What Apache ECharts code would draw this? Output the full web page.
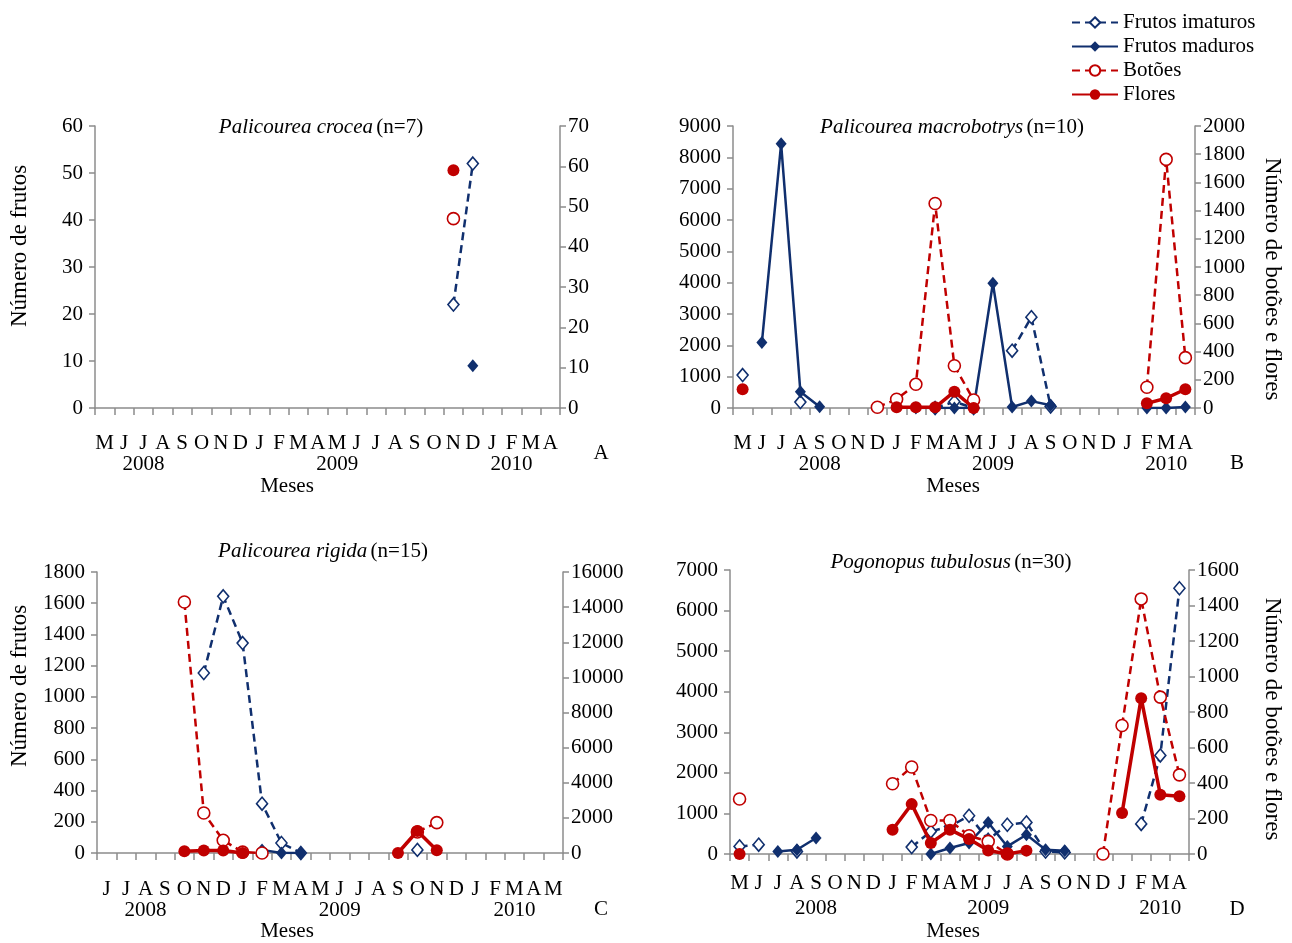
<!DOCTYPE html>
<html>
<head>
<meta charset="utf-8">
<script src="https://cdn.jsdelivr.net/npm/echarts@6/dist/echarts.min.js"></script>
<style>
  body { margin: 0; background: #fff; }
  #main { width: 1292px; height: 943px; }
</style>
</head>
<body>
<div id="main"></div>
<script>
// month letters, May 2008 - Apr 2010 (A, B, D) and Jun 2008 - May 2010 (C)
var monthsMay = ['M','J','J','A','S','O','N','D','J','F','M','A','M','J','J','A','S','O','N','D','J','F','M','A'];
var monthsJun = ['J','J','A','S','O','N','D','J','F','M','A','M','J','J','A','S','O','N','D','J','F','M','A','M'];

var yearsA = {2: '2008', 12: '2009', 21: '2010'};
var yearsB = {4: '2008', 13: '2009', 22: '2010'};
var yearsC = {2: '2008', 12: '2009', 21: '2010'};
var yearsD = {4: '2008', 13: '2009', 22: '2010'};

var N = null;
// A - Palicourea crocea
var imatA  = [N,N,N,N,N,N,N,N,N,N,N,N,N,N,N,N,N,N,22,52,N,N,N,N];
var madA   = [N,N,N,N,N,N,N,N,N,N,N,N,N,N,N,N,N,N,N,9,N,N,N,N];
var botA   = [N,N,N,N,N,N,N,N,N,N,N,N,N,N,N,N,N,N,47,N,N,N,N,N];
var florA  = [N,N,N,N,N,N,N,N,N,N,N,N,N,N,N,N,N,N,59,N,N,N,N,N];
// B - Palicourea macrobotrys
var imatB  = [1050,N,N,190,N,N,N,N,N,N,0,200,0,N,1830,2900,50,N,N,N,N,N,N,N];
var madB   = [N,2090,8430,520,40,N,N,N,N,0,0,0,0,3980,30,220,90,N,N,N,N,0,0,30];
var botB   = [N,N,N,N,N,N,N,5,62,168,1450,300,57,N,N,N,N,N,N,N,N,147,1763,357];
var florB  = [133,N,N,N,N,N,N,N,5,5,5,116,0,N,N,N,N,N,N,N,N,33,69,133];
// C - Palicourea rigida
var imatC  = [N,N,N,N,N,1153,1644,1345,316,64,0,N,N,N,N,N,20,N,N,N,N,N,N,N];
var madC   = [N,N,N,N,N,N,N,N,20,0,0,N,N,N,N,N,N,N,N,N,N,N,N,N];
var botC   = [N,N,N,N,14290,2278,723,50,0,N,N,N,N,N,N,N,1200,1731,N,N,N,N,N,N];
var florC  = [N,N,N,N,97,137,137,0,N,N,N,N,N,N,N,0,1253,154,N,N,N,N,N,N];
// D - Pogonopus tubulosus
var imatD  = [187,229,N,64,N,N,N,N,N,172,556,680,943,350,721,778,60,40,N,N,N,740,2430,6550];
var madD   = [N,N,64,106,394,N,N,N,N,N,0,148,271,778,187,475,106,80,N,N,N,N,N,N];
var botD   = [310,N,N,N,N,N,N,N,396,490,189,189,103,71,0,N,N,N,N,0,724,1437,884,446];
var florD  = [0,N,N,N,N,N,N,N,137,281,62,137,84,20,0,19,N,N,N,N,231,878,334,325];

var NAVY = '#102f6e';
var RED = '#c00000';
var FONT = 'Liberation Serif';
var AXIS = '#8c8c8c';

function xAx(grid, months, years, margin, lh) {
    return {
        type: 'category',
        gridIndex: grid,
        data: months,
        boundaryGap: true,
        axisLine: { show: true, lineStyle: { color: AXIS, width: 1.5 } },
        axisTick: { show: true, interval: 0, length: 7, lineStyle: { color: AXIS, width: 1.5 } },
        axisLabel: {
            interval: 0,
            hideOverlap: false,
            margin: margin,
            lineHeight: lh,
            color: '#000',
            fontFamily: FONT,
            fontSize: 21,
            formatter: function (v, i) {
                return years[i] ? v + '\n' + years[i] : v;
            }
        },
        splitLine: { show: false }
    };
}

function yAx(grid, pos, max, step) {
    return {
        type: 'value',
        gridIndex: grid,
        position: pos,
        min: 0,
        max: max,
        interval: step,
        axisLine: { show: true, lineStyle: { color: AXIS, width: 1.5 } },
        axisTick: { show: true, length: 6, lineStyle: { color: AXIS, width: 1.5 } },
        axisLabel: {
            margin: pos === 'left' ? 12 : 8,
            color: '#000',
            fontFamily: FONT,
            fontSize: 21,
            formatter: function (v) { return String(v); }
        },
        splitLine: { show: false }
    };
}

function panelSeries(k, imat, mad, bot, flor) {
    return [{
        name: 'Frutos imaturos', type: 'line',
        xAxisIndex: k, yAxisIndex: 2 * k, data: imat,
        symbol: 'diamond', symbolSize: [11, 13],
        lineStyle: { color: NAVY, width: 2.5, type: [8, 5] },
        itemStyle: { color: '#fff', borderColor: NAVY, borderWidth: 1.6 },
        z: 2
    }, {
        name: 'Frutos maduros', type: 'line',
        xAxisIndex: k, yAxisIndex: 2 * k, data: mad,
        symbol: 'diamond', symbolSize: [11, 13],
        lineStyle: { color: NAVY, width: 2.5 },
        itemStyle: { color: NAVY },
        z: 3
    }, {
        name: 'Botões', type: 'line',
        xAxisIndex: k, yAxisIndex: 2 * k + 1, data: bot,
        symbol: 'circle', symbolSize: 12,
        lineStyle: { color: RED, width: 2.5, type: [8, 5] },
        itemStyle: { color: '#fff', borderColor: RED, borderWidth: 1.6 },
        z: 4
    }, {
        name: 'Flores', type: 'line',
        xAxisIndex: k, yAxisIndex: 2 * k + 1, data: flor,
        symbol: 'circle', symbolSize: 12,
        lineStyle: { color: RED, width: 3.5 },
        itemStyle: { color: RED },
        z: 5
    }];
}

function txt(x, y, s, size, rot) {
    return {
        type: 'text', x: x, y: y, rotation: rot || 0,
        style: { text: s, fontFamily: FONT, fontSize: size, fill: '#000', align: 'center', verticalAlign: 'middle' }
    };
}

function title(x, y, sp, rest) {
    return {
        type: 'text', x: x, y: y,
        style: {
            text: '{i|' + sp + '} {n|' + rest + '}',
            align: 'center', verticalAlign: 'middle',
            rich: {
                i: { fontFamily: FONT, fontSize: 21, fontStyle: 'italic', fill: '#000' },
                n: { fontFamily: FONT, fontSize: 21, fill: '#000' }
            }
        }
    };
}

var option = {
    backgroundColor: '#fff',
    animation: false,
    legend: {
        orient: 'vertical',
        left: 1066,
        top: 7,
        itemWidth: 46,
        itemHeight: 13,
        itemGap: 3,
        textStyle: { fontFamily: FONT, fontSize: 21, color: '#000' },
        data: ['Frutos imaturos', 'Frutos maduros', 'Botões', 'Flores']
    },
    grid: [
        { left: 95, top: 126, width: 465, height: 282 },
        { left: 733, top: 126, width: 462, height: 282 },
        { left: 97, top: 572, width: 466, height: 281 },
        { left: 730, top: 570, width: 459, height: 284 }
    ],
    xAxis: [
        xAx(0, monthsMay, yearsA, 25, 21),
        xAx(1, monthsMay, yearsB, 25, 21),
        xAx(2, monthsJun, yearsC, 26, 21),
        xAx(3, monthsMay, yearsD, 17, 25)
    ],
    yAxis: [
        yAx(0, 'left', 60, 10), yAx(0, 'right', 70, 10),
        yAx(1, 'left', 9000, 1000), yAx(1, 'right', 2000, 200),
        yAx(2, 'left', 1800, 200), yAx(2, 'right', 16000, 2000),
        yAx(3, 'left', 7000, 1000), yAx(3, 'right', 1600, 200)
    ],
    series: [].concat(
        panelSeries(0, imatA, madA, botA, florA),
        panelSeries(1, imatB, madB, botB, florB),
        panelSeries(2, imatC, madC, botC, florC),
        panelSeries(3, imatD, madD, botD, florD)
    ),
    graphic: [
        title(321, 127, 'Palicourea crocea', '(n=7)'),
        title(952, 127, 'Palicourea macrobotrys', '(n=10)'),
        title(323, 551, 'Palicourea rigida', '(n=15)'),
        title(951, 562, 'Pogonopus tubulosus', '(n=30)'),
        txt(20, 246, 'Número de frutos', 23, Math.PI / 2),
        txt(20, 686, 'Número de frutos', 23, Math.PI / 2),
        txt(1272, 279, 'Número de botões e flores', 23, -Math.PI / 2),
        txt(1272, 719, 'Número de botões e flores', 23, -Math.PI / 2),
        txt(287, 486, 'Meses', 21), txt(953, 486, 'Meses', 21),
        txt(287, 931, 'Meses', 21), txt(953, 931, 'Meses', 21),
        txt(601, 453, 'A', 21), txt(1237, 463, 'B', 21),
        txt(601, 909, 'C', 21), txt(1237, 909, 'D', 21)
    ]
};

var myChart = echarts.init(document.getElementById('main'));
option && myChart.setOption(option);
</script>
</body>
</html>
